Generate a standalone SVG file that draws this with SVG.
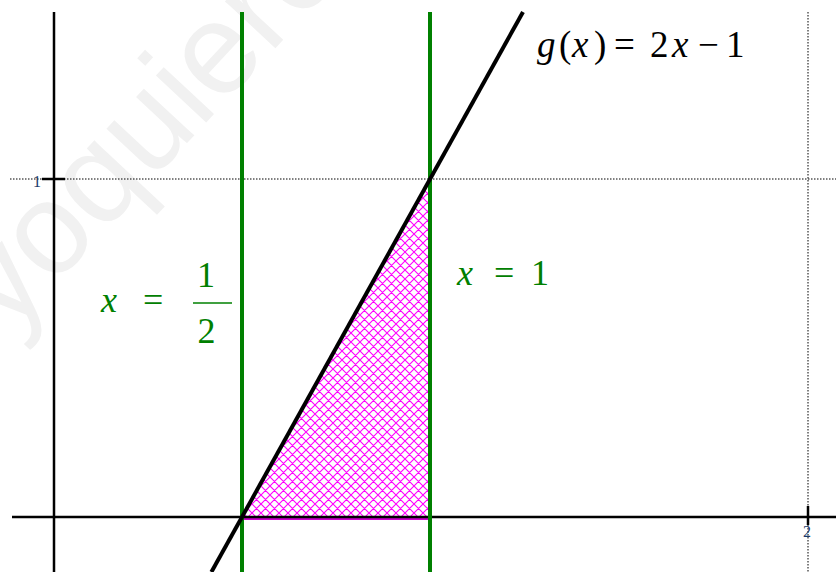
<svg xmlns="http://www.w3.org/2000/svg" width="836" height="572" viewBox="0 0 836 572">
<style>
.grid{stroke:#000;stroke-width:1;stroke-dasharray:1.5,1.5;fill:none}
.axis{stroke:#000;stroke-width:2.5;fill:none}
.green{stroke:#008000;stroke-width:4;fill:none}
.curve{stroke:#000;stroke-width:4;fill:none}
.serif{font-family:'Liberation Serif','DejaVu Serif','Times New Roman',serif}
.m{font-size:37px;fill:#000}
.mg{font-size:36px;fill:#008000}
.tick{font-size:16px;fill:#1a3a6a}
</style>
<defs>
<pattern id="hatch" patternUnits="userSpaceOnUse" width="9" height="9">
<path d="M0,0 L9,9 M9,0 L0,9 M-1,8 L1,10 M8,-1 L10,1 M-1,1 L1,-1 M8,10 L10,8" stroke="#ff00ff" stroke-width="1.1"/>
</pattern>
</defs>
<rect width="836" height="572" fill="#fff"/>
<text x="0" y="0" transform="translate(8,335) rotate(-47)" font-family="'Liberation Sans', Arial, sans-serif" font-size="130" fill="#f1f1f1">yoquiero</text>
<g id="grid">
<line class="grid" x1="10" y1="179" x2="836" y2="179"/>
<line class="grid" x1="808" y1="12" x2="808" y2="572"/>
</g>
<g id="region">
<polygon points="242,517 430,179 430,517" fill="url(#hatch)"/>
<line x1="242" y1="519" x2="430" y2="519" stroke="#cc00cc" stroke-width="2"/>
</g>
<g id="axes">
<line class="axis" x1="12" y1="517" x2="836" y2="517"/>
<line class="axis" x1="54" y1="12" x2="54" y2="572"/>
<line class="axis" x1="42" y1="179" x2="65" y2="179"/>
<line class="axis" x1="808" y1="506" x2="808" y2="525"/>
<text class="tick serif" x="33" y="187">1</text>
<text class="tick serif" x="803" y="537">2</text>
</g>
<g id="lines">
<line class="green" x1="242" y1="12" x2="242" y2="572"/>
<line class="green" x1="430" y1="12" x2="430" y2="572"/>
<line class="curve" x1="523" y1="12" x2="211.4" y2="572"/>
</g>
<g id="labels">
<text class="m serif" y="57"><tspan x="537" font-style="italic">g</tspan><tspan x="559">(</tspan><tspan x="572" font-style="italic">x</tspan><tspan x="594">)</tspan><tspan x="614">=</tspan><tspan x="650">2</tspan><tspan x="672" font-style="italic">x</tspan><tspan x="698">−</tspan><tspan x="726">1</tspan></text>
<text class="mg serif" y="285"><tspan x="457" font-style="italic">x</tspan><tspan x="494">=</tspan><tspan x="531">1</tspan></text>
<text class="mg serif" x="101" y="312" font-style="italic">x</text>
<text class="mg serif" x="143" y="312">=</text>
<text class="mg serif" x="206" y="287" text-anchor="middle">1</text>
<line x1="193" y1="303" x2="232" y2="303" stroke="#008000" stroke-width="1.5"/>
<text class="mg serif" x="206.5" y="343" text-anchor="middle">2</text>
</g>
</svg>
